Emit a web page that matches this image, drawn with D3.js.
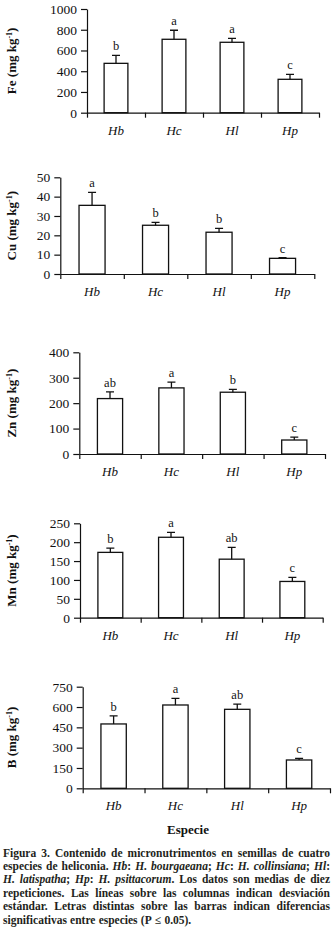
<!DOCTYPE html>
<html>
<head>
<meta charset="utf-8">
<script src="https://cdn.jsdelivr.net/npm/d3@7"></script>
<style>
  body { margin: 0; background: #fff; }
  svg { display: block; }
  text { font-family: "Liberation Serif", "Times New Roman", serif; fill: #111; }
</style>
</head>
<body>
<div id="chart"></div>
<script>
// species on the x axis
const species = ["Hb", "Hc", "Hl", "Hp"];

// means and standard deviations (mg kg-1)
const feMean = [476, 708, 679, 322];
const feSd = [77, 87, 38, 48];
const cuMean = [35.5, 25.2, 21.6, 8.1];
const cuSd = [6.7, 1.5, 2.0, 0.4];
const znMean = [218, 260, 243, 55];
const znSd = [26, 23, 11, 11];
const mnMean = [173, 213, 155, 96];
const mnSd = [11, 13, 31, 11];
const bMean = [475, 615, 583, 209];
const bSd = [59, 49, 39, 12];

// letters over the bars
const feLet = ["b", "a", "a", "c"];
const cuLet = ["a", "b", "b", "c"];
const znLet = ["ab", "a", "b", "c"];
const mnLet = ["b", "a", "ab", "c"];
const bLet = ["b", "a", "ab", "c"];

// y tick values
const feTicks = [0, 200, 400, 600, 800, 1000];
const cuTicks = [0, 10, 20, 30, 40, 50];
const znTicks = [0, 100, 200, 300, 400];
const mnTicks = [0, 50, 100, 150, 200, 250];
const bTicks = [0, 150, 300, 450, 600, 750];

const W = 332, H = 933;
const svg = d3.select("#chart").append("svg")
  .attr("width", W).attr("height", H);
svg.append("rect").attr("width", W).attr("height", H).attr("fill", "#fff");

// panel frames: left / right of x axis, top (max tick) / bottom (zero)
const panels = [
  { el: "Fe", mean: feMean, sd: feSd, lets: feLet, ticks: feTicks, l: 87, r: 319, t: 9, b: 112.7 },
  { el: "Cu", mean: cuMean, sd: cuSd, lets: cuLet, ticks: cuTicks, l: 60.3, r: 314.3, t: 177.3, b: 274 },
  { el: "Zn", mean: znMean, sd: znSd, lets: znLet, ticks: znTicks, l: 79.3, r: 325, t: 352.3, b: 454 },
  { el: "Mn", mean: mnMean, sd: mnSd, lets: mnLet, ticks: mnTicks, l: 80, r: 322.7, t: 523.3, b: 617.7 },
  { el: "B", mean: bMean, sd: bSd, lets: bLet, ticks: bTicks, l: 82.7, r: 330, t: 686.7, b: 788.3 }
];

panels.forEach(function (p) {
  const g = svg.append("g");
  const x = d3.scaleBand().domain(species).range([p.l, p.r])
    .paddingInner(0.59).paddingOuter(0.295);
  const y = d3.scaleLinear().domain([0, d3.max(p.ticks)]).range([p.b, p.t]);
  const slots = d3.scaleLinear().domain([0, species.length]).range([p.l, p.r]);

  // bars
  const rows = species.map((s, i) => ({ s: s, m: p.mean[i], sd: p.sd[i], lt: p.lets[i] }));
  g.selectAll("rect.bar").data(rows).join("rect")
    .attr("class", "bar")
    .attr("x", d => x(d.s)).attr("width", x.bandwidth())
    .attr("y", d => y(d.m)).attr("height", d => y(0) - y(d.m))
    .attr("fill", "#fff").attr("stroke", "#111").attr("stroke-width", 1.3);

  // error bars
  const cap = 4;
  g.selectAll("path.err").data(rows).join("path")
    .attr("class", "err")
    .attr("d", d => {
      const cx = x(d.s) + x.bandwidth() / 2;
      return `M${cx},${y(d.m)}V${y(d.m + d.sd)}M${cx - cap},${y(d.m + d.sd)}H${cx + cap}`;
    })
    .attr("fill", "none").attr("stroke", "#111").attr("stroke-width", 1.3);

  // letters
  g.selectAll("text.let").data(rows).join("text")
    .attr("class", "let")
    .attr("x", d => x(d.s) + x.bandwidth() / 2)
    .attr("y", d => y(d.m + d.sd) - 5)
    .attr("text-anchor", "middle")
    .style("font-size", "12.5px")
    .text(d => d.lt);

  // y axis
  const ya = g.append("g").attr("transform", `translate(${p.l},0)`)
    .call(d3.axisLeft(y).tickValues(p.ticks).tickFormat(d3.format("d"))
      .tickSize(6).tickSizeOuter(0).tickPadding(4));
  ya.selectAll("text").style("font-size", "13.5px").attr("font-family", null);

  // x axis with boundary ticks
  const xa = g.append("g").attr("transform", `translate(0,${p.b})`)
    .call(d3.axisBottom(slots).tickValues(d3.range(species.length + 1))
      .tickFormat("").tickSize(5).tickSizeOuter(0));
  const xl = g.append("g").attr("transform", `translate(0,${p.b})`)
    .call(d3.axisBottom(x).tickSize(0));
  xl.select(".domain").remove();
  xl.selectAll("text").attr("y", 22).attr("dy", null)
    .style("font-size", "13px").style("font-style", "italic").attr("font-family", null);
  [ya, xa].forEach(a => a.selectAll("path, line").attr("stroke", "#111").attr("stroke-width", 1.2));

  // y axis title
  const lab = g.append("text")
    .attr("transform", `translate(16,${(p.t + p.b) / 2}) rotate(-90)`)
    .attr("text-anchor", "middle")
    .style("font-size", "13px").style("font-weight", "bold");
  lab.append("tspan").text(p.el + " (mg kg");
  lab.append("tspan").attr("dy", -4.5).style("font-size", "8px").text("-1");
  lab.append("tspan").attr("dy", 4.5).text(")");
});

svg.append("text")
  .attr("x", 188).attr("y", 834)
  .attr("text-anchor", "middle")
  .style("font-size", "13px").style("font-weight", "bold")
  .text("Especie");

// caption, justified line by line
const capLines = [
  [["Figura 3. Contenido de micronutrimentos en semillas de cuatro", 0]],
  [["especies de heliconia. ", 0], ["Hb", 1], [": ", 0], ["H. bourgaeana", 1], ["; ", 0], ["Hc", 1], [": ", 0], ["H. collinsiana", 1], ["; ", 0], ["Hl", 1], [":", 0]],
  [["H. latispatha", 1], ["; ", 0], ["Hp", 1], [": ", 0], ["H. psittacorum", 1], [". Los datos son medias de diez", 0]],
  [["repeticiones. Las líneas sobre las columnas indican desviación", 0]],
  [["estándar. Letras distintas sobre las barras indican diferencias", 0]],
  [["significativas entre especies (P ≤ 0.05).", 0]]
];
const capL = 3, capR = 330, capY0 = 856.5, capDy = 13.4;

capLines.forEach(function (segs, li) {
  // split into words, each word a list of [text, italic]
  const words = [[]];
  segs.forEach(function (s) {
    s[0].split(/( )/).forEach(function (part) {
      if (part === " ") { if (words[words.length - 1].length) words.push([]); }
      else if (part !== "") words[words.length - 1].push([part, s[1]]);
    });
  });
  if (!words[words.length - 1].length) words.pop();

  const yy = capY0 + li * capDy;
  const nodes = words.map(function (w) {
    const t = svg.append("text").attr("y", yy)
      .style("font-size", "11.5px").style("font-weight", "bold").style("fill", "#231f20");
    w.forEach(function (s) {
      t.append("tspan").style("font-style", s[1] ? "italic" : "normal").text(s[0]);
    });
    return t;
  });
  const widths = nodes.map(n => n.node().getComputedTextLength());
  const total = d3.sum(widths);
  const last = li === capLines.length - 1;
  const gap = last ? 3.2 : (capR - capL - total) / (nodes.length - 1);
  let cx = capL;
  nodes.forEach(function (n, i) {
    n.attr("x", cx);
    cx += widths[i] + gap;
  });
});
</script>
</body>
</html>
